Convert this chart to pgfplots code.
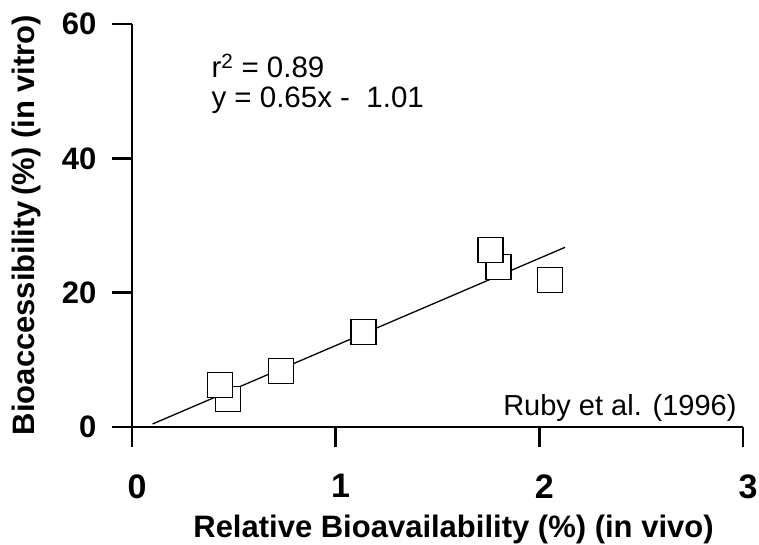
\documentclass[border=0pt]{standalone}
\usepackage{fontspec}
\setmainfont{Liberation Sans}
\usepackage{pgfplots}
\pgfplotsset{compat=1.18}
\begin{document}
\begin{tikzpicture}
\useasboundingbox (-132pt,-117pt) rectangle (627pt,427pt);
\begin{axis}[
    at={(0pt,0pt)}, anchor=south west,
    scale only axis,
    width=611pt, height=403pt,
    xmin=0, xmax=3, ymin=0, ymax=60,
    axis x line=bottom, axis y line=left,
    axis line style={line width=2pt, -},
    xtick={0,1,2,3}, xticklabels={0,1,2,3},
    ytick={0,20,40,60}, yticklabels={0,20,40,60},
    tick align=outside,
    major tick length=20pt,
    tick style={line width=2.5pt, black},
    xticklabel style={font=\fontsize{34}{34}\selectfont\bfseries, yshift=-24pt, xshift=5pt},
    yticklabel style={font=\fontsize{31}{31}\selectfont\bfseries, xshift=-12pt},
    clip=false,
]
% regression line
\addplot[black, line width=1.3pt] coordinates {(0.101,0.45) (2.126,26.75)};
% data
\addplot[only marks, mark=square*, mark size=12.5pt,
    mark options={fill=white, draw=black, line width=1.3pt}]
    coordinates {(0.471,4.17) (0.431,6.25) (0.730,8.34) (1.137,14.14)
                 (1.799,23.8) (1.760,26.35) (2.054,21.9)};
\end{axis}
\node[anchor=base west, font=\fontsize{29.5}{29.5}\selectfont] at (76pt,349pt) {r\textsuperscript{2} = 0.89};
\node[anchor=base west, font=\fontsize{29.5}{29.5}\selectfont] at (76pt,319pt) {y = 0.65x - \ 1.01};
\node[anchor=base east, font=\fontsize{29}{29}\selectfont] at (608pt,12pt) {Ruby et al. (1996)};
\node[anchor=base, font=\fontsize{31}{31}\selectfont\bfseries] at (321.5pt,-110pt) {Relative Bioavailability (\%) (in vivo)};
\node[anchor=base, rotate=90, font=\fontsize{31}{31}\selectfont\bfseries] at (-97pt,202pt) {Bioaccessibility\,(\%) (in vitro)};
\end{tikzpicture}
\end{document}
